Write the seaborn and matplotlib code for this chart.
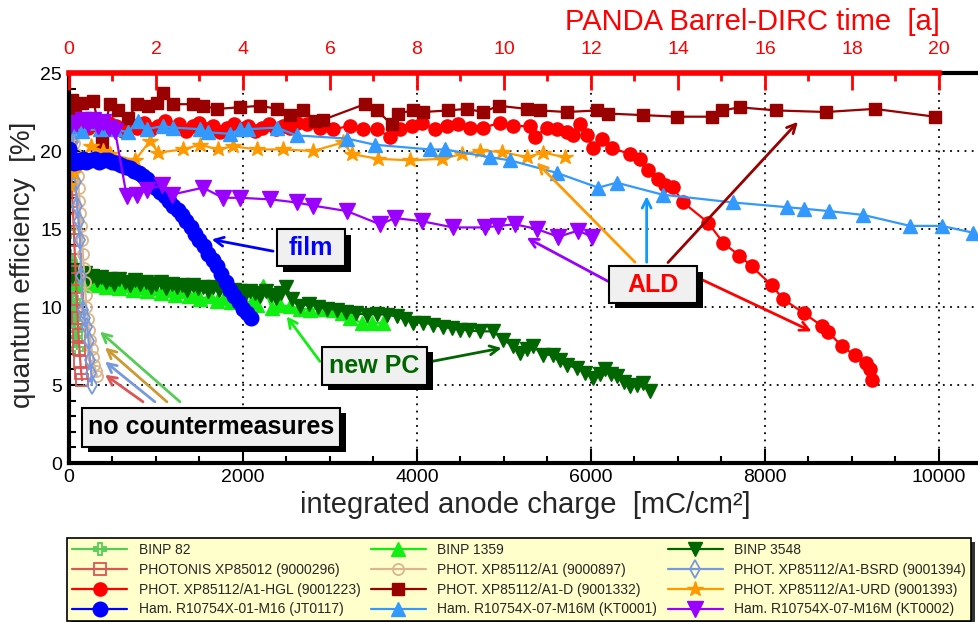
import numpy as np
import pandas as pd
import matplotlib
matplotlib.use("Agg")
import matplotlib.pyplot as plt
import matplotlib.patheffects as pe
from matplotlib.patches import Rectangle
from matplotlib.ticker import MultipleLocator
import seaborn as sns

# --- data (x: integrated anode charge in mC/cm^2, y: QE in %) ---
x_binp82 = [0, 5, 10, 15, 20, 25, 30, 35, 40, 45, 50, 55, 60, 65, 70, 75, 80, 85, 90]
y_binp82 = [13.3, 14.8, 13.0, 12.4, 11.8, 12.9, 11.2, 10.6, 11.5, 10.1, 9.6, 10.4, 9.2, 8.8, 9.5, 8.3, 7.9, 8.6, 7.3]

x_binp1359 = [0, 50, 100, 160, 220, 290, 360, 430, 500, 580, 660, 740, 820, 900, 980, 1060, 1140, 1220, 1300, 1380,
              1460, 1506, 1621, 1700, 1780, 1860, 1940, 2020, 2100, 2157, 2233, 2330, 2420, 2540, 2650, 2770, 2900,
              3038, 3140, 3230, 3364, 3479, 3613]
y_binp1359 = [11.9, 11.6, 11.8, 11.5, 11.7, 11.4, 11.6, 11.3, 11.5, 11.2, 11.4, 11.1, 11.3, 11.0, 11.2, 10.9, 11.1,
              10.8, 11.0, 10.7, 10.9, 10.5, 10.7, 10.4, 10.6, 10.3, 10.5, 10.2, 10.4, 10.15, 11.33, 9.94, 10.1, 10.05,
              9.9, 9.83, 9.9, 9.83, 9.6, 9.3, 8.98, 8.98, 8.98]

x_binp3548 = [0, 30, 60, 100, 140, 180, 220, 270, 320, 370, 420, 470, 520, 580, 640, 700, 760, 820, 880, 940, 1000,
              1060, 1120, 1180, 1240, 1300, 1360, 1420, 1480, 1540, 1600, 1660, 1720, 1780, 1840, 1900, 1960, 2020,
              2080, 2140, 2200, 2260, 2320, 2380, 2440, 2500, 2560, 2655, 2760, 2860, 2960, 3077, 3180, 3300, 3422,
              3540, 3652, 3767, 3860, 3955, 4070, 4188, 4300, 4400, 4494, 4600, 4724, 4877, 4992, 5107, 5184, 5260,
              5337, 5452, 5567, 5640, 5721, 5835, 5930, 6027, 6100, 6161, 6230, 6295, 6380, 6448, 6530, 6600, 6678]
y_binp3548 = [12.3, 12.0, 12.4, 12.1, 11.9, 12.2, 11.8, 12.0, 11.7, 11.9, 11.6, 11.8, 11.5,
              11.8, 11.6, 11.4, 11.7, 11.5, 11.6, 11.3, 11.5, 11.6, 11.2, 11.5, 11.3, 11.4, 11.1, 11.4, 11.2, 11.3,
              11.0, 11.3, 11.1, 11.2, 10.9, 11.1, 11.0, 10.8, 11.0, 10.9, 10.7, 11.0, 10.8, 10.6, 10.9, 11.3, 10.5,
              10.05, 10.2, 10.0, 9.9, 9.83, 9.7, 9.6, 9.5, 9.55, 9.5, 9.4, 9.2, 8.98, 9.0, 8.87, 8.7, 8.65, 8.55,
              8.5, 8.44, 8.44, 7.9, 7.47, 7.05, 7.3, 7.47, 6.94, 6.94, 6.6, 6.3, 6.08, 5.8, 5.44, 5.7, 6.0, 5.7, 5.6,
              5.2, 4.95, 5.0, 5.16, 4.6]

x_photonis = [0, 10, 20, 30, 40, 50, 60, 70, 80, 90, 100, 110, 120, 130, 140, 150]
y_photonis = [20.8, 20.2, 19.1, 18.0, 16.8, 15.6, 14.3, 13.0, 11.8, 10.5, 9.3, 8.2, 7.3, 6.5, 5.8, 5.3]

x_a1 = [40, 60, 80, 90, 100, 110, 120, 130, 140, 150, 160, 170, 180, 190, 200, 215, 230, 245, 260, 275, 290, 305, 320]
y_a1 = [21.0, 20.5, 19.8, 19.1, 18.4, 17.6, 16.8, 16.0, 15.2, 14.3, 13.4, 12.5, 11.6, 10.8, 10.0, 9.2, 8.5, 7.9,
        7.3, 6.8, 6.3, 5.9, 5.6]

x_bsrd = [30, 46, 60, 75, 92, 110, 126, 140, 161, 180, 207, 225, 241, 255, 264]
y_bsrd = [21.2, 20.6, 19.5, 18.0, 16.5, 15.5, 14.3, 12.0, 9.8, 9.3, 8.7, 7.8, 6.6, 5.8, 5.0]

x_hgl = [0, 40, 90, 150, 220, 300, 380, 460, 540, 620, 700, 780, 860, 940, 1020, 1100, 1180, 1260, 1340, 1420,
         1500, 1580, 1660, 1740, 1820, 1900, 1980, 2060, 2140, 2220, 2300, 2380, 2460, 2540, 2620, 2730, 2885,
         3035, 3230, 3380, 3537, 3690, 3805, 3939, 4054, 4207, 4341, 4475, 4609, 4762, 4954, 5107, 5299, 5356,
         5491, 5606, 5721, 5797, 5874, 5950, 6027, 6123, 6238, 6448, 6563, 6659, 6774, 6850, 6939, 7061, 7348,
         7521, 7705, 7847, 8077, 8210, 8448, 8651, 8728, 8881, 9034, 9161, 9206, 9226]
y_hgl = [21.8, 22.0, 21.6, 21.9, 21.5, 21.7, 21.4, 21.8, 21.6, 21.3, 21.7, 21.5, 21.8, 21.4, 21.6, 21.9, 21.5,
         21.7, 21.3, 21.6, 21.8, 21.4, 21.6, 21.2, 21.5, 21.7, 21.4, 21.6, 21.3, 21.5, 21.7, 21.4, 21.6, 21.5,
         21.8, 21.7, 21.5, 21.4, 21.6, 21.4, 21.4, 20.9, 21.4, 21.6, 21.8, 21.4, 21.6, 21.7, 21.5, 21.5, 21.8,
         21.6, 21.6, 20.9, 21.5, 21.4, 21.2, 21.0, 21.7, 21.0, 20.2, 20.8, 20.2, 19.8, 19.5, 18.8, 18.2, 17.8,
         17.7, 16.7, 15.4, 14.1, 13.3, 12.6, 11.4, 10.5, 9.6, 8.8, 8.4, 7.5, 6.9, 6.4, 6.0, 5.3]

x_a1d = [0, 30, 70, 150, 280, 380, 470, 560, 680, 780, 910, 1010, 1080, 1200, 1420, 1540, 1700, 1960, 2200, 2390,
         2540, 2690, 2830, 2920, 3400, 3540, 3710, 3780, 3950, 4070, 4360, 4570, 4760, 4940, 5260, 5410, 5720,
         6070, 6200, 6600, 6990, 7390, 7510, 7710, 8130, 8700, 9260, 9950]
y_a1d = [22.8, 23.3, 22.7, 23.1, 23.2, 20.6, 23.0, 22.6, 22.1, 23.0, 22.9, 23.1, 23.7, 23.0, 23.0, 22.9, 22.7,
         22.8, 22.9, 22.7, 22.3, 22.6, 21.9, 22.0, 23.0, 22.6, 21.7, 22.4, 22.6, 22.5, 22.6, 22.7, 22.5, 22.9,
         22.7, 22.6, 22.5, 22.6, 22.4, 22.3, 22.2, 22.2, 22.6, 22.8, 22.6, 22.5, 22.7, 22.2]

x_urd = [0, 46, 250, 391, 471, 759, 931, 1023, 1310, 1506, 1713, 1885, 2161, 2460, 2805, 3150, 3253, 3552, 3920,
         4287, 4517, 4724, 4973, 5261, 5449, 5700]
y_urd = [17.8, 18.6, 20.3, 20.0, 19.8, 19.4, 20.65, 19.9, 20.1, 20.4, 20.1, 20.3, 20.1, 20.1, 20.0, 20.55, 19.8,
         19.5, 19.4, 19.5, 19.8, 20.0, 19.95, 19.6, 19.9, 19.6]

x_jt0117 = [0, 10, 20, 40, 60, 90, 120, 160, 200, 250, 300, 350, 400, 450, 500, 550, 600, 650, 700, 750, 800, 850,
            900, 950, 1000, 1050, 1100, 1150, 1200, 1250, 1300, 1350, 1400, 1450, 1500, 1550, 1600, 1650, 1700,
            1750, 1800, 1850, 1900, 1950, 2000, 2050, 2090]
y_jt0117 = [20.1, 19.6, 19.3, 19.4, 19.2, 19.4, 19.3, 19.5, 19.3, 19.4, 19.5, 19.3, 19.4, 19.4, 19.3, 19.2, 19.1,
            19.0, 18.9, 18.7, 18.6, 18.4, 18.2, 17.9, 17.6, 17.4, 17.1, 16.8, 16.5, 16.2, 15.9, 15.5, 15.1, 14.7,
            14.3, 13.9, 13.4, 13.0, 12.6, 12.1, 11.6, 11.1, 10.7, 10.3, 9.9, 9.6, 9.3]

x_kt0001 = [11, 146, 356, 529, 678, 793, 893, 1080, 1195, 1506, 1598, 1850, 1965, 2057, 2387, 2617, 3192, 3517,
            4149, 4322, 4839, 5069, 5606, 6084, 6295, 6823, 7636, 8249, 8448, 8732, 9130, 9667, 10030, 10395]
y_kt0001 = [21.6, 21.3, 21.4, 21.4, 21.2, 21.9, 21.4, 21.6, 21.5, 21.4, 21.2, 21.1, 21.4, 21.4, 21.5, 21.0, 20.8,
            20.4, 20.1, 20.1, 19.6, 19.4, 18.6, 17.65, 17.97, 17.2, 16.7, 16.4, 16.3, 16.15, 15.9, 15.2, 15.2, 14.76]

x_kt0002 = [0, 80, 161, 220, 276, 330, 391, 460, 529, 663, 778, 893, 1066, 1180, 1540, 1770, 1965, 2310, 2617,
            2805, 3192, 3575, 3747, 4054, 4417, 4782, 4934, 5126, 5376, 5624, 5854, 6008]
y_kt0002 = [21.5, 21.8, 22.0, 21.7, 22.0, 21.6, 21.85, 21.5, 21.3, 17.1, 17.2, 17.5, 17.8, 17.2, 17.65, 17.0, 17.0,
            16.9, 16.7, 16.5, 16.15, 15.3, 15.7, 15.5, 15.1, 15.1, 15.2, 15.3, 15.0, 14.5, 14.9, 14.5]

# label, x, y, colour, marker, markersize, open marker
series = [
    ("BINP 82", x_binp82, y_binp82, "#55cc55", "P", 9, True),
    ("BINP 1359", x_binp1359, y_binp1359, "#11ee11", "^", 10, False),
    ("BINP 3548", x_binp3548, y_binp3548, "#006600", "v", 10, False),
    ("PHOTONIS XP85012 (9000296)", x_photonis, y_photonis, "#dd5555", "s", 8, True),
    ("PHOT. XP85112/A1 (9000897)", x_a1, y_a1, "#dbb58c", "o", 8, True),
    ("PHOT. XP85112/A1-BSRD (9001394)", x_bsrd, y_bsrd, "#7799dd", "d", 9, True),
    ("PHOT. XP85112/A1-HGL (9001223)", x_hgl, y_hgl, "#ff0000", "o", 9.5, False),
    ("PHOT. XP85112/A1-D (9001332)", x_a1d, y_a1d, "#990000", "s", 8.5, False),
    ("PHOT. XP85112/A1-URD (9001393)", x_urd, y_urd, "#ff9900", "*", 11.5, False),
    ("Ham. R10754X-01-M16 (JT0117)", x_jt0117, y_jt0117, "#0000ff", "o", 10.5, False),
    ("Ham. R10754X-07-M16M (KT0001)", x_kt0001, y_kt0001, "#3399ff", "^", 10.5, False),
    ("Ham. R10754X-07-M16M (KT0002)", x_kt0002, y_kt0002, "#9900ff", "v", 11, False),
]

XMAX = 10460   # right edge of the (cut off) frame
MC_PER_YEAR = 500

sns.set_theme(style="ticks")
plt.rcParams["font.family"] = ["Liberation Sans", "DejaVu Sans"]

fig = plt.figure(figsize=(9.79, 6.22), dpi=100)
ax = fig.add_axes([69 / 979, 1 - 463 / 622, 910 / 979, 390 / 622])

for label, xs, ys, col, mk, ms, hollow in series:
    df = pd.DataFrame({"x": xs, "y": ys})
    sns.lineplot(data=df, x="x", y="y", ax=ax, color=col, marker=mk, markersize=ms,
                 markerfacecolor="none" if hollow else col, markeredgecolor=col,
                 markeredgewidth=1.3 if hollow else 1.0, lw=1.6, label=label,
                 estimator=None, sort=False)

if ax.get_legend() is not None:
    ax.get_legend().remove()

ax.set_xlim(0, XMAX)
ax.set_ylim(0, 25)
ax.set_xlabel("")
ax.set_ylabel("")
ax.xaxis.set_major_locator(MultipleLocator(2000))
ax.xaxis.set_minor_locator(MultipleLocator(500))
ax.yaxis.set_major_locator(MultipleLocator(5))
ax.yaxis.set_minor_locator(MultipleLocator(1))
ax.tick_params(which="both", direction="in", top=False, right=False, labelsize=14, colors="black", width=1.5)
ax.tick_params(which="major", length=10)
ax.tick_params(which="minor", length=5)
ax.tick_params(axis="x", pad=4)
ax.tick_params(axis="y", pad=5)
ax.grid(True, which="major", ls=(0, (1, 3)), color="black", lw=1.3)
ax.set_axisbelow(True)
for side in ["left", "bottom", "top"]:
    ax.spines[side].set_linewidth(3)
    ax.spines[side].set_color("black")
ax.spines["right"].set_visible(False)

# top axis: PANDA running time in years
ax2 = ax.twiny()
ax2.set_xlim(0, XMAX / MC_PER_YEAR)
ax2.xaxis.set_major_locator(MultipleLocator(2))
ax2.xaxis.set_minor_locator(MultipleLocator(1))
ax2.tick_params(which="both", direction="in", colors="red", width=2, labelsize=14, pad=11)
ax2.tick_params(which="major", length=12)
ax2.tick_params(which="minor", length=6)
for side in ["left", "right", "bottom"]:
    ax2.spines[side].set_visible(False)
ax2.spines["top"].set_color("red")
ax2.spines["top"].set_linewidth(4)
ax2.spines["top"].set_bounds(0, 20)
ax2.set_xticks([t for t in range(0, 21, 2)])

fig.text(940 / 979, 1 - 22 / 622, "PANDA Barrel-DIRC time  [a]", color="red", fontsize=21,
         ha="right", va="center")
fig.text(525 / 979, 1 - 505 / 622, "integrated anode charge  [mC/cm²]", fontsize=21,
         ha="center", va="center")
fig.text(23 / 979, 1 - 265 / 622, "quantum efficiency  [%]", fontsize=20, rotation=90,
         ha="center", va="center")


def label_box(x0, x1, y0, y1, text, color):
    rect = Rectangle((x0, y0), x1 - x0, y1 - y0, fc="#f0f0f0", ec="black", lw=1.5, zorder=20,
                     path_effects=[pe.withSimplePatchShadow(offset=(4, -4), shadow_rgbFace="black", alpha=1.0)])
    ax.add_patch(rect)
    ax.text((x0 + x1) / 2, (y0 + y1) / 2, text, color=color, fontsize=18, fontweight="bold",
            ha="center", va="center", zorder=21)


def arrow(tail, head, color):
    ax.annotate("", xy=head, xytext=tail, zorder=19,
                arrowprops=dict(arrowstyle="->", color=color, lw=2, shrinkA=0, shrinkB=0,
                                mutation_scale=16))


# no countermeasures
arrow((851, 3.92), (414, 5.66), "#dd5555")
arrow((988, 3.92), (414, 6.5), "#7799dd")
arrow((1126, 3.92), (414, 7.4), "#cc9933")
arrow((1276, 3.92), (356, 8.42), "#55cc55")
label_box(149, 3115, 1.03, 3.53, "no countermeasures", "black")

# film
arrow((2345, 13.58), (1640, 14.33), "#0000ff")
label_box(2391, 3172, 12.6, 14.97, "film", "#0000ff")

# new PC
arrow((2885, 6.51), (2502, 9.4), "#11ee11")
arrow((4169, 6.51), (4973, 7.37), "#006600")
label_box(2908, 4115, 5.01, 7.46, "new PC", "#006600")

# ALD
arrow((6506, 12.87), (5376, 19.26), "#ff9900")
arrow((6640, 12.87), (6640, 17.11), "#1199ff")
arrow((6885, 12.85), (8379, 21.87), "#990000")
arrow((6195, 11.65), (5261, 14.44), "#9900ff")
arrow((7272, 11.76), (8536, 8.44), "#ff0000")
label_box(6207, 7218, 10.28, 12.6, "ALD", "#ff0000")

# legend below the plot, rows filled left to right
handles, labels = ax.get_legend_handles_labels()
order = [0, 3, 6, 9, 1, 4, 7, 10, 2, 5, 8, 11]
leg = fig.legend([handles[i] for i in order], [labels[i] for i in order], ncol=3, loc="upper left",
                 bbox_to_anchor=(67 / 979, 1 - 538 / 622), borderaxespad=0, fontsize=10, frameon=True,
                 fancybox=False, facecolor="#ffffcc", edgecolor="black", framealpha=1, handlelength=4.0,
                 handletextpad=0.8, columnspacing=0.75, labelspacing=0.42, borderpad=0.35)
leg.get_frame().set_linewidth(1.2)
leg.get_frame().set_path_effects([pe.withSimplePatchShadow(offset=(3, -3), shadow_rgbFace="#333333",
                                                           alpha=1.0)])

fig.savefig("out.png", dpi=100)
